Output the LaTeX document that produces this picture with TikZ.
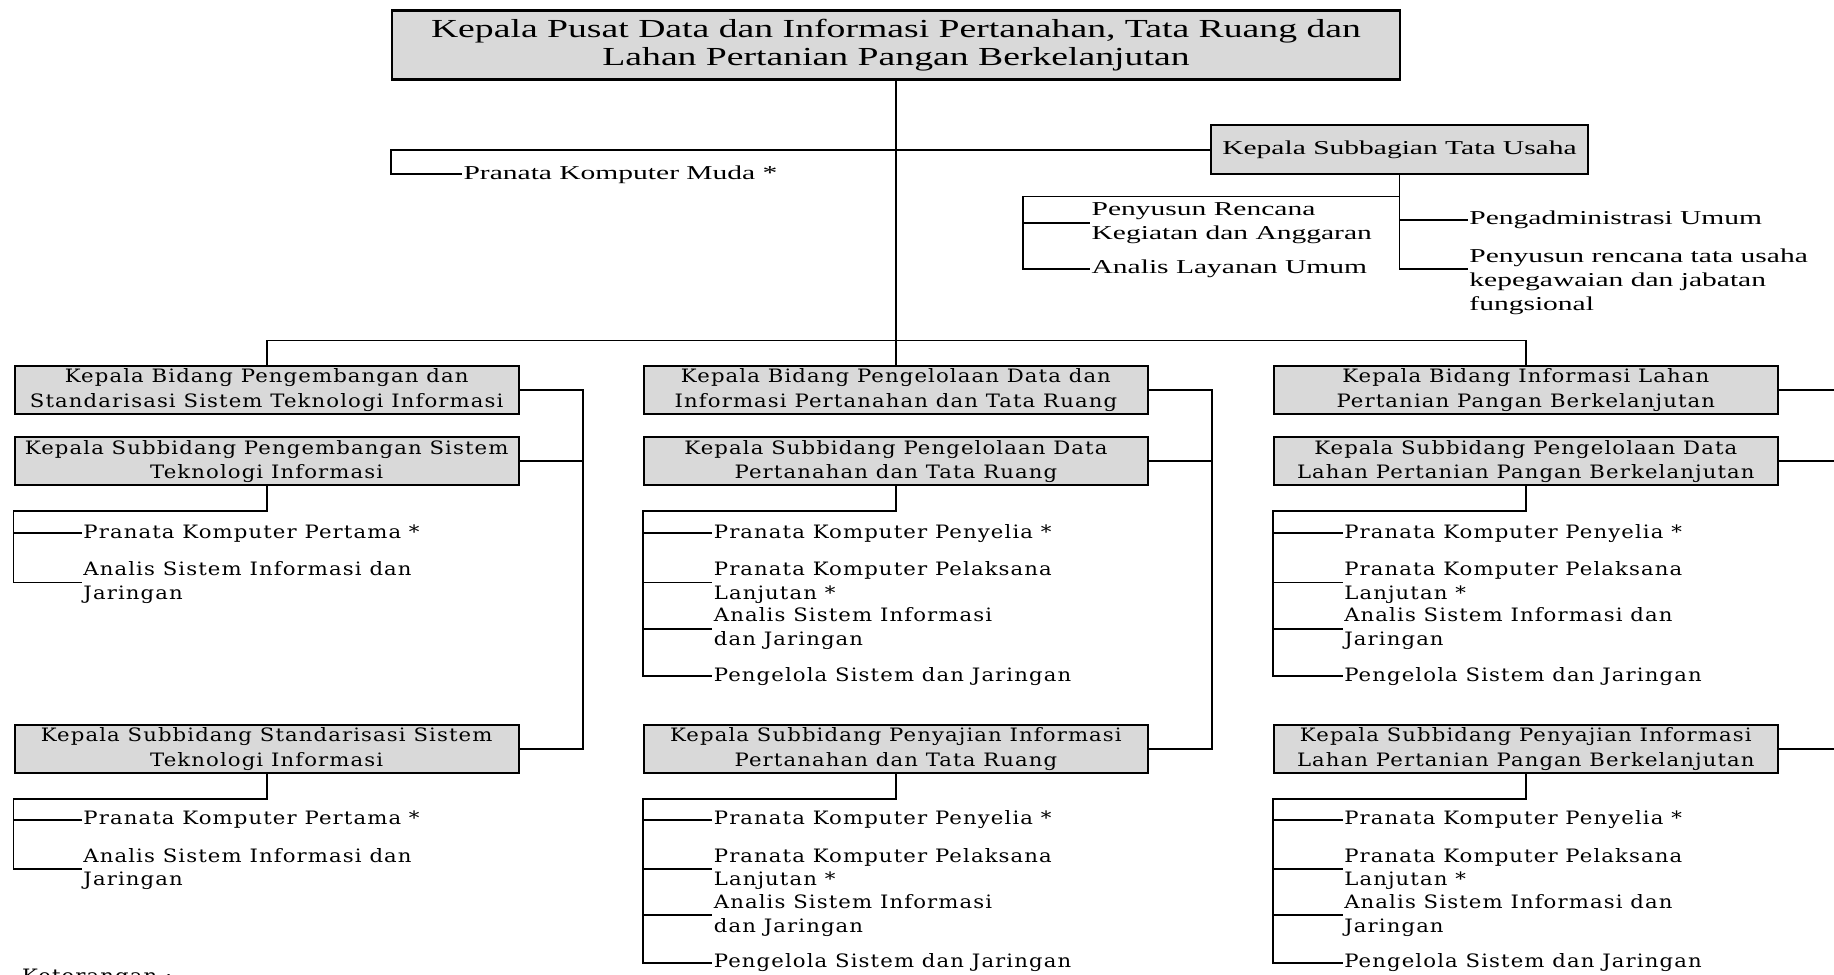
\documentclass[tikz,border=0pt]{standalone}
\usepackage{fontspec}
\setmainfont{Liberation Serif}
\newfontfamily\headfont[FakeStretch=1.45]{Liberation Serif}
\newfontfamily\tufont[FakeStretch=1.5]{Liberation Serif}
\newfontfamily\bodyfont[FakeStretch=1.15,LetterSpace=6]{DejaVu Serif}
\usepackage{tikz}
\usetikzlibrary{positioning, calc}
\definecolor{boxgray}{HTML}{D9D9D9}

\tikzset{
	headbox/.style={draw, line width=1.2pt, fill=boxgray, align=center, inner sep=0pt},
	unitbox/.style={headbox, minimum width=10.09cm, minimum height=0.96cm,
		font=\bodyfont\fontsize{10.5}{14}\selectfont},
	staff/.style={anchor=west, align=left, inner sep=1pt,
		font=\bodyfont\fontsize{10.5}{13.6}\selectfont},
	tustaff/.style={anchor=west, align=left, inner sep=1pt,
		font=\tufont\fontsize{11.2}{13.6}\selectfont}
}

\begin{document}
\begin{tikzpicture}[x=0.0234cm, y=-0.0234cm, line width=1.1pt, line cap=rect]
				\useasboundingbox (0,0) rectangle (1568,833);
				\clip (0,0) rectangle (1568,833);
				% pimpinan dan tata usaha
				\node[headbox, minimum width=20.17cm, minimum height=1.38cm, font=\headfont\fontsize{14.8}{16}\selectfont] (kapus) at (766,38.5) {Kepala Pusat Data dan Informasi Pertanahan, Tata Ruang dan\\Lahan Pertanian Pangan Berkelanjutan};
				\node[headbox, minimum width=7.56cm, minimum height=0.98cm, font=\tufont\fontsize{11.2}{13.6}\selectfont] (kasubbag) at (1196.5,128) {Kepala Subbagian Tata Usaha};
				\node[tustaff] (muda) at (394,149) {Pranata Komputer Muda *};
				\node[tustaff] (tu1) at (931,191) {Penyusun Rencana\\Kegiatan dan Anggaran};
				\node[tustaff] (tu2) at (931,230) {Analis Layanan Umum};
				\node[tustaff] (tu3) at (1254,188) {Pengadministrasi Umum};
				\node[tustaff] (tu4) at (1254,241) {Penyusun rencana tata usaha\\kepegawaian dan jabatan\\fungsional};
				\coordinate (tuL) at (875,168);
				% bidang
				\node[unitbox] (kabid1) at (228,333.5) {Kepala Bidang Pengembangan dan\\Standarisasi Sistem Teknologi Informasi};
				\node[unitbox] (kasubA1) at (228,394.5) {Kepala Subbidang Pengembangan Sistem\\Teknologi Informasi};
				\node[unitbox] (kasubB1) at (228,640.5) {Kepala Subbidang Standarisasi Sistem\\Teknologi Informasi};
				\node[unitbox] (kabid2) at (766,333.5) {Kepala Bidang Pengelolaan Data dan\\Informasi Pertanahan dan Tata Ruang};
				\node[unitbox] (kasubA2) at (766,394.5) {Kepala Subbidang Pengelolaan Data\\Pertanahan dan Tata Ruang};
				\node[unitbox] (kasubB2) at (766,640.5) {Kepala Subbidang Penyajian Informasi\\Pertanahan dan Tata Ruang};
				\node[unitbox] (kabid3) at (1304.5,333.5) {Kepala Bidang Informasi Lahan\\Pertanian Pangan Berkelanjutan};
				\node[unitbox] (kasubA3) at (1304.5,394.5) {Kepala Subbidang Pengelolaan Data\\Lahan Pertanian Pangan Berkelanjutan};
				\node[unitbox] (kasubB3) at (1304.5,640.5) {Kepala Subbidang Penyajian Informasi\\Lahan Pertanian Pangan Berkelanjutan};
				% fungsional
				\node[staff] (pA11) at (69,456) {Pranata Komputer Pertama *};
				\node[staff] (pA12) at (69,498) {Analis Sistem Informasi dan\\Jaringan};
				\node[staff] (pB11) at (69,701) {Pranata Komputer Pertama *};
				\node[staff] (pB12) at (69,743) {Analis Sistem Informasi dan\\Jaringan};
				\foreach \c/\px/\ana in {2/608/{Analis Sistem Informasi\\dan Jaringan}, 3/1147/{Analis Sistem Informasi dan\\Jaringan}} {
					\foreach \r/\dy in {A/0, B/245} {
						\node[staff] (p\r\c1) at (\px,456+\dy) {Pranata Komputer Penyelia *};
						\node[staff] (p\r\c2) at (\px,498+\dy) {Pranata Komputer Pelaksana\\Lanjutan *};
						\node[staff] (p\r\c3) at (\px,537.5+\dy) {\ana};
						\node[staff] (p\r\c4) at (\px,578+\dy) {Pengelola Sistem dan Jaringan};
					}
				}
				\node[anchor=north west, inner sep=0pt, font=\bodyfont\fontsize{10.5}{13}\selectfont] (ket) at (18,828) {Keterangan :};
				% garis
				\draw (kapus.south) -- (kabid2.north);
				\draw (kabid1.north) -- ++(0,-21) -| (kabid3.north);
				\draw (kasubbag.west) -- (kapus.west |- kasubbag.west) |- (muda.west);
				\draw (kasubbag.south) |- ([yshift=7.3pt]tu4.west);
				\draw (kasubbag.south |- tuL) -- (tuL) |- (tu2.west);
				\draw (tuL |- tu1.west) -- (tu1.west);
				\draw (kasubbag.south |- tu3.west) -- (tu3.west);
				\foreach \k in {1,2,3} {
					\draw (kabid\k.east) -- ++(54,0) coordinate (r\k) |- (kasubB\k.east);
					\draw (kasubA\k.east) -- (kasubA\k.east -| r\k);
				}
				\foreach \r in {A,B} {
					\draw (kasub\r1.south) -- ++(0,21) -| (kasub\r1.west |- p\r12.west) -- (p\r12.west);
					\draw (kasub\r1.west |- p\r11.west) -- (p\r11.west);
					\foreach \c in {2,3} {
						\draw (kasub\r\c.south) -- ++(0,21) -| (kasub\r\c.west |- p\r\c4.west) -- (p\r\c4.west);
						\foreach \i in {1,2,3}
							\draw (kasub\r\c.west |- p\r\c\i.west) -- (p\r\c\i.west);
					}
				}
			\end{tikzpicture}
\end{document}
